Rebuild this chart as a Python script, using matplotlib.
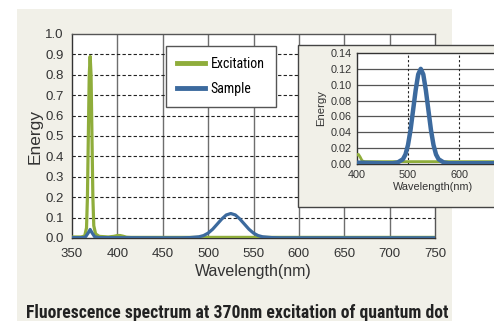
import matplotlib
matplotlib.use("Agg")
import matplotlib.pyplot as plt
from matplotlib.patches import Rectangle

# ---- data ----
exc_wl = [350, 360, 364, 366, 367, 368, 369, 370, 371, 372, 373, 374, 376, 380, 390,
          396, 400, 403, 406, 410, 415, 450, 500, 550, 600, 650, 700, 750]
exc_val = [0.005, 0.005, 0.01, 0.05, 0.2, 0.5, 0.8, 0.89, 0.8, 0.5, 0.2, 0.06, 0.02,
           0.008, 0.005, 0.008, 0.012, 0.012, 0.009, 0.004, 0.003, 0.003, 0.003,
           0.003, 0.003, 0.003, 0.003, 0.003]
smp_wl = [350, 362, 365, 368, 370, 372, 375, 380, 450, 470, 480, 490, 495, 500, 505, 510,
          515, 520, 525, 530, 535, 540, 545, 550, 555, 560, 570, 580, 650, 750]
smp_val = [0.002, 0.002, 0.006, 0.026, 0.042, 0.026, 0.006, 0.002, 0.001, 0.001, 0.002,
           0.006, 0.012, 0.024, 0.043, 0.068, 0.093, 0.113, 0.120, 0.113, 0.093, 0.068,
           0.043, 0.024, 0.012, 0.006, 0.002, 0.001, 0.001, 0.001]
series_labels = ["Excitation", "Sample"]
main_xticks = [350, 400, 450, 500, 550, 600, 650, 700, 750]
main_yticks = [0.0, 0.1, 0.2, 0.3, 0.4, 0.5, 0.6, 0.7, 0.8, 0.9, 1.0]
inset_xticks = [400, 500, 600, 700]
inset_yticks = [0.0, 0.02, 0.04, 0.06, 0.08, 0.10, 0.12, 0.14]
caption = "Fluorescence spectrum at 370nm excitation of quantum dot"

GREEN = "#8fad3b"
BLUE = "#3c6a9e"
BG = "#f1f0e8"
FONT = ["Liberation Sans", "DejaVu Sans"]
NARROW = ["Roboto Condensed", "DejaVu Sans"]
plt.rcParams["font.family"] = FONT

W, H = 494, 321
fig = plt.figure(figsize=(W / 100, H / 100), dpi=100)
fig.patch.set_facecolor("white")

def fx(px):
    return px / W

def fy(py):
    return 1 - py / H

# beige panel
fig.patches.append(Rectangle((fx(17), 0), fx(452) - fx(17), fy(9), transform=fig.transFigure,
                             facecolor=BG, edgecolor="none", zorder=0))

# ---- main axes ----
ax = fig.add_axes([fx(72), fy(238), fx(435) - fx(72), fy(34) - fy(238)])
ax.set_zorder(2)
ax.set_facecolor("white")
ax.plot(exc_wl, exc_val, color=GREEN, lw=2.3, label=series_labels[0], zorder=3)
ax.plot(smp_wl, smp_val, color=BLUE, lw=2.3, label=series_labels[1], zorder=4)
ax.set_xlim(350, 750)
ax.set_ylim(0, 1.0)
ax.set_xticks(main_xticks)
ax.set_yticks(main_yticks)
ax.set_yticklabels([f"{v:.1f}" for v in main_yticks])
for x in main_xticks[1:-1]:
    ax.axvline(x, color="#6e6e6e", lw=1.0, zorder=1)
for y in main_yticks[1:-1]:
    ax.axhline(y, color="#222222", lw=0.8, ls=(0, (3, 2)), zorder=1)
for s in ax.spines.values():
    s.set_color("#555555")
    s.set_linewidth(1.0)
ax.spines["left"].set_color("#333333")
ax.spines["bottom"].set_color("#333333")
ax.tick_params(length=0, labelsize=9.5, colors="#333333", pad=7)
ax.tick_params(axis="y", pad=6)
ax.set_xlabel("Wavelength(nm)", fontsize=11.5, color="#333333", labelpad=3)
ax.set_ylabel("Energy", fontsize=12.5, color="#333333", labelpad=2)

leg = ax.legend(loc="upper left", bbox_to_anchor=(fx(166), fy(46)),
                bbox_transform=fig.transFigure, borderaxespad=0, frameon=True,
                fancybox=False, edgecolor="#555555", framealpha=1, handlelength=2.0,
                handletextpad=0.4, borderpad=0.8, labelspacing=0.8,
                prop={"family": NARROW, "size": 10})
leg.get_frame().set_linewidth(1.0)
for line in leg.get_lines():
    line.set_linewidth(3.5)

# ---- inset box ----
box_ax = fig.add_axes([0, 0, 1, 1])
box_ax.set_zorder(5)
box_ax.axis("off")
box_ax.add_patch(Rectangle((fx(298), fy(207)), 0.6, fy(45) - fy(207), transform=fig.transFigure,
                           facecolor=BG, edgecolor="#444444", lw=1.0))

axi = fig.add_axes([fx(357), fy(164), fx(510) - fx(357), fy(53) - fy(164)])
axi.set_zorder(6)
axi.set_facecolor("white")
axi.plot(exc_wl, exc_val, color=GREEN, lw=2.0, zorder=3)
axi.plot(smp_wl, smp_val, color=BLUE, lw=3.2, zorder=4)
axi.set_xlim(400, 700)
axi.set_ylim(0, 0.14)
axi.set_xticks(inset_xticks[:-1])
axi.set_yticks(inset_yticks)
axi.set_yticklabels([f"{v:.2f}" for v in inset_yticks])
for y in inset_yticks[1:-1]:
    axi.axhline(y, color="#555555", lw=0.9, zorder=1)
for x in inset_xticks[1:-1]:
    axi.axvline(x, color="#222222", lw=0.8, ls=(0, (2, 2)), zorder=1)
for s in axi.spines.values():
    s.set_color("#333333")
    s.set_linewidth(1.0)
axi.tick_params(length=0, labelsize=7.8, colors="#333333", pad=4)
axi.set_xlabel("Wavelength(nm)", fontsize=7.8, color="#333333", labelpad=2)
axi.set_ylabel("Energy", fontsize=8.2, color="#333333", labelpad=3)

fig.text(fx(26), fy(313), caption, fontsize=12.7, fontweight="bold", family=NARROW,
         color="#222222", va="center", ha="left")

fig.savefig("out.png", dpi=100, facecolor=fig.get_facecolor())
